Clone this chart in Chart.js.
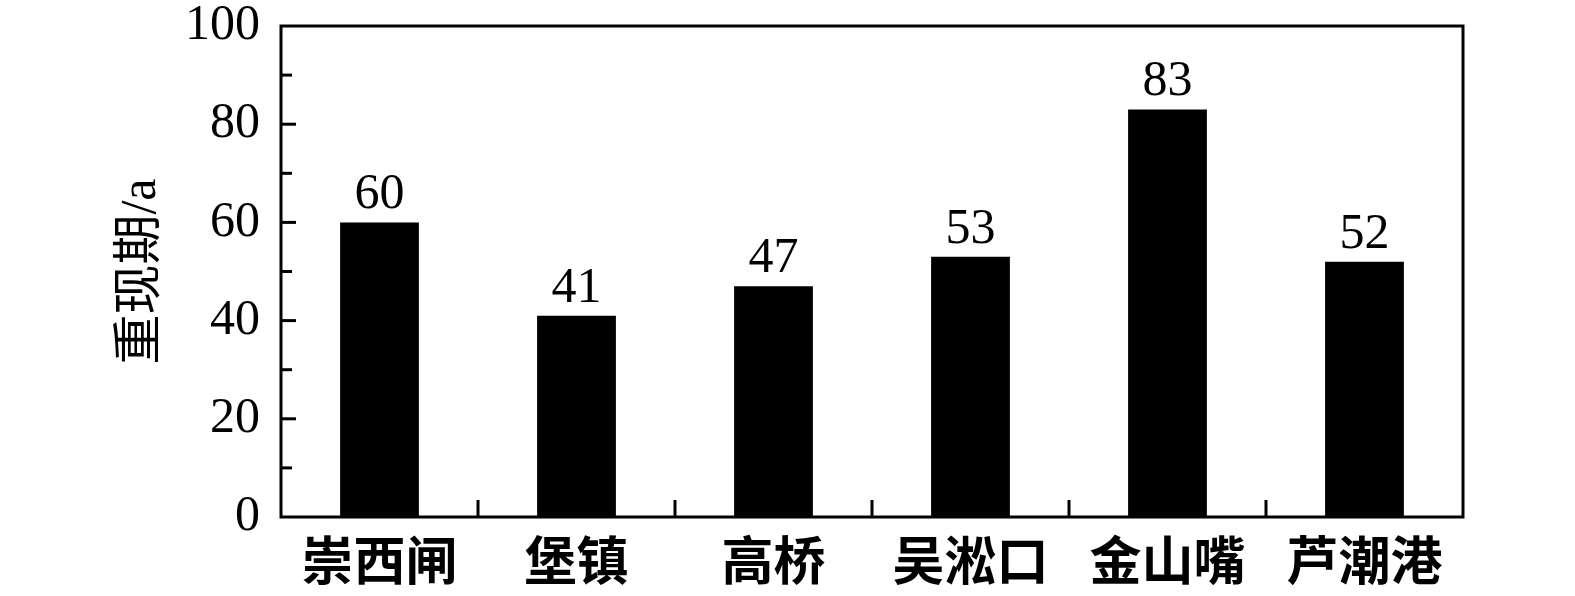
<!DOCTYPE html>
<html>
<head>
<meta charset="utf-8">
<script src="https://cdn.jsdelivr.net/npm/chart.js@4/dist/chart.umd.min.js"></script>
<style>
  html, body { margin: 0; padding: 0; background: #fff; }
  #wrap { width: 1575px; height: 596px; }
</style>
</head>
<body>
<div id="wrap"><canvas id="chart"></canvas></div>
<script>
const stations = ['崇西闸', '堡镇', '高桥', '吴淞口', '金山嘴', '芦潮港'];
const returnPeriods = [60, 41, 47, 53, 83, 52];
const yTicks = [0, 20, 40, 60, 80, 100];

const serif = '"Liberation Serif", "Times New Roman", "Noto Sans CJK SC", serif';
const cjk = '"Noto Sans CJK SC", sans-serif';

// frame, inward tick marks and value labels
const decorations = {
  id: 'decorations',
  afterDraw(chart) {
    const { ctx, chartArea: a, scales: { x, y } } = chart;
    ctx.save();
    ctx.strokeStyle = '#000';
    ctx.lineWidth = 3;
    ctx.strokeRect(a.left, a.top, a.right - a.left, a.bottom - a.top);

    for (let v = 10; v < 100; v += 10) {
      const py = y.getPixelForValue(v);
      const len = v % 20 === 0 ? 15 : 11;
      ctx.beginPath();
      ctx.moveTo(a.left, py);
      ctx.lineTo(a.left + len, py);
      ctx.stroke();
    }
    for (let i = 1; i < stations.length; i++) {
      const px = (x.getPixelForValue(i - 1) + x.getPixelForValue(i)) / 2;
      ctx.beginPath();
      ctx.moveTo(px, a.bottom);
      ctx.lineTo(px, a.bottom - 17);
      ctx.stroke();
    }

    ctx.fillStyle = '#000';
    ctx.font = '50px ' + serif;
    ctx.textAlign = 'center';
    ctx.textBaseline = 'alphabetic';
    chart.getDatasetMeta(0).data.forEach((bar, i) => {
      ctx.fillText(String(returnPeriods[i]), bar.x, bar.y - 14);
    });
    ctx.restore();
  }
};

new Chart(document.getElementById('chart'), {
  type: 'bar',
  data: {
    labels: stations,
    datasets: [{
      data: returnPeriods,
      backgroundColor: '#000',
      borderWidth: 0,
      categoryPercentage: 1,
      barPercentage: 0.4,
    }],
  },
  options: {
    responsive: true,
    maintainAspectRatio: false,
    animation: false,
    layout: { padding: { left: 0, top: 26, right: 112, bottom: 0 } },
    plugins: { legend: { display: false }, tooltip: { enabled: false } },
    scales: {
      x: {
        grid: { display: false, drawTicks: false },
        border: { display: false },
        ticks: {
          color: '#000',
          padding: 12,
          maxRotation: 0,
          autoSkip: false,
          font: { family: cjk, size: 52, weight: 'bold' },
        },
        afterFit(scale) { scale.height = 79; },
      },
      y: {
        min: 0,
        max: 100,
        afterBuildTicks(scale) { scale.ticks = yTicks.map(v => ({ value: v })); },
        grid: { display: false, drawTicks: false },
        border: { display: false },
        ticks: {
          color: '#000',
          padding: 21,
          font: { family: serif, size: 50 },
        },
        title: {
          display: true,
          text: '重现期/a',
          color: '#000',
          padding: { top: 112, bottom: 0 },
          font: { family: serif, size: 50 },
        },
        afterFit(scale) {
          scale.width = 281;
          scale.paddingTop = 0;
          scale.paddingBottom = 0;
        },
      },
    },
  },
  plugins: [decorations],
});
</script>
</body>
</html>
